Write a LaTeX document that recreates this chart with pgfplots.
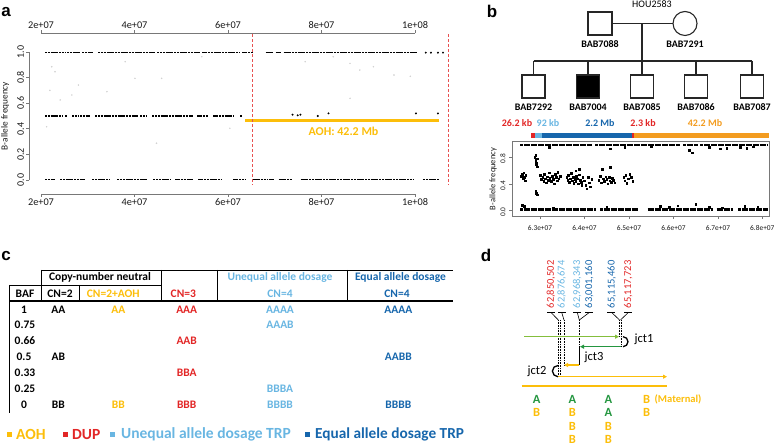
\documentclass[border=0pt]{standalone}
\usepackage{pgfplots}
\pgfplotsset{compat=1.18}
\usepackage{fontspec}
\setmainfont{Carlito}
\newfontfamily\arialfont{Liberation Sans}
\usetikzlibrary{arrows.meta}
\definecolor{cRed}{RGB}{226,38,38}
\definecolor{cLBlue}{RGB}{105,182,226}
\definecolor{cBlue}{RGB}{22,102,172}
\definecolor{cYel}{RGB}{252,190,10}
\definecolor{cOrg}{RGB}{243,156,32}
\definecolor{cLGreen}{RGB}{132,190,60}
\definecolor{cDGreen}{RGB}{36,150,64}
\definecolor{axgray}{RGB}{120,120,120}
\newcommand{\fs}[1]{\fontsize{#1}{#1}\selectfont}
\begin{document}
\begin{tikzpicture}
\useasboundingbox (0,0) rectangle (778pt,446pt);

% ---------------- panel a ----------------
\begin{axis}[at={(41pt,266pt)}, anchor=south west, scale only axis,
  width=374pt, height=128pt, xmin=20, xmax=100, ymin=0, ymax=1,
  hide axis, clip=false, unbounded coords=jump]
% faint points
\addplot[only marks, mark=*, mark size=0.55pt, gray!35] coordinates {
(22.29,0.885)(23.0,0.846)(21.2,0.416)(21.9,0.70)(24.1,0.625)(28.0,0.742)(26.6,0.664)
(34.1,0.69)(40.1,0.794)(45.8,0.794)(44.7,0.287)(38.0,0.924)(54.4,0.963)(60.4,0.404)
(86.1,0.911)(88.2,0.859)(86.1,0.638)(91.1,0.885)(82.5,0.963)(76.5,0.924)(95.5,0.82)(99.0,0.81)};
% bands
\addplot[black, line width=1.2pt, dash pattern=on 2.2pt off 0.6pt] coordinates {
(20.86,0.995)(25.15,0.995)(25.3,nan)(25.57,0.995)(28.36,0.995)(28.5,nan)(28.79,0.995)(31.15,0.995)(31.5,nan)
(32.22,0.995)(44.44,0.995)(44.6,nan)(44.87,0.995)(54.09,0.995)(54.3,nan)(54.52,0.995)(62.67,0.995)(62.8,nan)
(63.1,0.995)(65.24,0.995)(66,nan)(68.03,0.995)(69.53,0.995)(69.8,nan)(70.17,0.995)(71.24,0.995)(71.5,nan)(71.88,0.995)(100.6,0.995)};
\addplot[black, line width=1.2pt, dash pattern=on 2.2pt off 0.6pt] coordinates {
(20.86,0.5)(24.5,0.5)(24.8,nan)(25.15,0.5)(25.57,0.5)(26,nan)(26.65,0.5)(27.93,0.5)(28.1,nan)(28.36,0.5)(30.5,0.5)(31,nan)
(31.58,0.5)(40.58,0.5)(40.9,nan)(41.23,0.5)(42.73,0.5)(43.2,nan)(43.8,0.5)(52.59,0.5)(53,nan)(53.45,0.5)(55.8,0.5)(56.3,nan)
(56.88,0.5)(61.17,0.5)(62,nan)(62.67,0.5)(63.1,0.5)};
\addplot[black, line width=1.2pt, dash pattern=on 2.2pt off 0.6pt] coordinates {
(20.86,0.005)(23.0,0.005)(23.5,nan)(24.07,0.005)(29.43,0.005)(30,nan)(30.93,0.005)(34.79,0.005)(35.5,nan)(36.29,0.005)(42.73,0.005)(43.3,nan)
(44.01,0.005)(47.66,0.005)(48.2,nan)(48.73,0.005)(52.59,0.005)(53.1,nan)(53.66,0.005)(58.81,0.005)(60,nan)(61.17,0.005)(63.74,0.005)(64.5,nan)
(65.24,0.005)(68.45,0.005)(68.55,nan)(68.67,0.005)(69.74,0.005)(70.2,nan)(70.81,0.005)(73.8,0.005)(74.5,nan)(75.53,0.005)(99.76,0.005)(100.5,nan)(101.7,0.005)(105.1,0.005)};
\addplot[only marks, mark=*, mark size=0.75pt, black] coordinates {
(102.3,0.995)(103.4,0.995)(104.9,0.995)(106.0,0.995)
(73.8,0.51)(74.9,0.505)(75.5,0.51)(79.2,0.5)(81.5,0.52)(100.2,0.52)(104.9,0.52)};
% AOH line
\addplot[cYel, line width=2.6pt] coordinates {(63.74,0.466)(105.1,0.466)};
% red dashed lines
\addplot[cRed!80, densely dashed, line width=0.6pt] coordinates {(65.13,1.14)(65.13,-0.04)};
\addplot[cRed!80, densely dashed, line width=0.6pt] coordinates {(107.06,1.14)(107.06,-0.04)};
% R-style axes
\draw[axgray, line width=0.6pt] (20,-0.112) -- (100,-0.112);
\draw[axgray, line width=0.6pt] (20,1.146) -- (100,1.146);
\draw[axgray, line width=0.6pt] (17.49,0) -- (17.49,1);
\pgfplotsinvokeforeach{20,40,60,80,100}{
  \draw[axgray, line width=0.6pt] (#1,-0.112) -- ++(0pt,-3pt);
  \draw[axgray, line width=0.6pt] (#1,1.146) -- ++(0pt,3pt);
}
\pgfplotsinvokeforeach{0,0.2,0.4,0.6,0.8,1}{
  \draw[axgray, line width=0.6pt] (17.49,#1) -- ++(-3pt,0pt);
}
\foreach \x/\l in {20/2e+07,40/4e+07,60/6e+07,80/8e+07,100/1e+08}{
  \edef\tmp{\noexpand\node[below, inner sep=1pt, font=\noexpand\fs{10.3}, text=black!90] at (axis cs:\x,-0.135) {\l};
  \noexpand\node[above, inner sep=1pt, font=\noexpand\fs{10.3}, text=black!90] at (axis cs:\x,1.17) {\l};}
  \tmp
}
\foreach \y/\l in {0/0.0,0.2/0.2,0.4/0.4,0.6/0.6,0.8/0.8,1/1.0}{
  \edef\tmp{\noexpand\node[rotate=90, anchor=south, inner sep=1pt, font=\noexpand\fs{10}, text=black!90] at (axis cs:16.6,\y) {\l};}
  \tmp
}
\node[rotate=90, font=\fs{9.3}, text=black!90] at (axis cs:12.35,0.5) {B-allele frequency};
\node[font=\bfseries\fs{12}, text=cYel] at (axis cs:84.7,0.38) {AOH: 42.2 Mb};
\end{axis}

% ---------------- panel b plot ----------------
\begin{axis}[at={(512pt,230pt)}, anchor=south west, scale only axis,
  width=257pt, height=74.5pt, xmin=62.37, xmax=68.15, ymin=-0.083, ymax=1.038,
  clip=false, axis line style={axgray, line width=0.6pt},
  tick align=outside, xtick pos=bottom, ytick pos=left, major tick length=3pt,
  tick style={axgray, line width=0.6pt},
  xtick={63,64,65,66,67,68}, xticklabels={6.3e+07,6.4e+07,6.5e+07,6.6e+07,6.7e+07,6.8e+07},
  ytick={0,0.4,0.8}, yticklabels={0.0,0.4,0.8},
  xticklabel style={font=\fs{7.4}, text=black!90, yshift=-3pt},
  yticklabel style={font=\fs{7.4}, text=black!90, rotate=90, anchor=south, xshift=-1.5pt}]
% colored bar
\addplot[cRed, line width=5.5pt] coordinates {(62.80,1.128)(62.89,1.128)};
\addplot[cLBlue, line width=5.5pt] coordinates {(62.89,1.128)(63.04,1.128)};
\addplot[cBlue, line width=5.5pt] coordinates {(63.04,1.128)(65.07,1.128)};
\addplot[cRed, line width=5.5pt] coordinates {(65.07,1.128)(65.12,1.128)};
\addplot[cOrg, line width=5.5pt] coordinates {(65.12,1.128)(68.16,1.128)};
% bands
\addplot[black, line width=2.2pt, dash pattern=on 3pt off 0.5pt, unbounded coords=jump] coordinates {
(62.55,0.98)(64.18,0.98)(64.21,nan)(64.24,0.98)(66.15,0.98)(66.18,nan)(66.22,0.98)(66.55,0.98)(66.57,nan)(66.6,0.98)(68.12,0.98)};
\addplot[black, line width=2.2pt, dash pattern=on 3pt off 0.5pt, unbounded coords=jump] coordinates {
(62.55,0.015)(64.27,0.015)(64.3,nan)(64.35,0.015)(65.2,0.015)(65.3,nan)(65.42,0.015)(66.9,0.015)(66.93,nan)(66.97,0.015)(67.34,0.015)(67.4,nan)(67.46,0.015)(68.13,0.015)};
\addplot[only marks, mark=square*, mark size=0.8pt, black] coordinates {
(63.2,0.95)(64.58,0.93)(66.35,0.91)(66.42,0.87)(66.8,0.95)(67.05,0.93)(67.2,0.94)(67.5,0.95)(67.65,0.94)(67.8,0.96)(65.5,0.96)(64.9,0.95)
(62.6,0.08)(62.65,0.06)(64.5,0.05)(65.7,0.06)(65.9,0.05)(66.1,0.07)(66.5,0.09)(66.8,0.05)(67.1,0.04)(67.6,0.06)(63.3,0.04)(67.9,0.05)
(62.58,0.52)(62.60,0.55)(62.62,0.48)(62.64,0.50)(62.66,0.45)(62.68,0.53)(62.63,0.57)
(62.88,0.80)(62.90,0.76)(62.91,0.72)(62.92,0.69)(62.93,0.78)(62.94,0.66)(62.90,0.83)
(62.90,0.29)(62.92,0.26)(62.94,0.24)
(63.00,0.53)(63.03,0.47)(63.06,0.50)(63.08,0.44)(63.10,0.55)(63.12,0.48)(63.14,0.42)(63.16,0.51)(63.18,0.46)(63.20,0.57)
(63.22,0.49)(63.25,0.44)(63.27,0.52)(63.30,0.47)(63.32,0.40)(63.34,0.55)(63.36,0.50)(63.38,0.45)(63.40,0.58)(63.42,0.48)(63.45,0.52)
(63.60,0.50)(63.62,0.46)(63.64,0.53)(63.66,0.43)(63.68,0.48)(63.70,0.56)(63.72,0.45)(63.74,0.50)(63.76,0.41)(63.78,0.47)
(63.80,0.44)(63.82,0.52)(63.84,0.48)(63.86,0.40)(63.88,0.54)(63.90,0.46)(63.92,0.43)(63.94,0.38)(63.96,0.50)(63.80,0.60)(63.88,0.62)
(64.00,0.45)(64.03,0.38)(64.05,0.33)(64.08,0.50)(64.10,0.42)(64.13,0.36)(64.16,0.47)
(64.32,0.46)(64.35,0.52)(64.38,0.42)(64.40,0.62)(64.42,0.48)(64.45,0.44)(64.48,0.51)(64.50,0.47)(64.52,0.40)(64.55,0.50)
(64.57,0.45)(64.60,0.43)(64.62,0.49)(64.58,0.65)(64.65,0.46)(64.68,0.42)
(64.88,0.50)(64.90,0.45)(64.93,0.53)(64.95,0.41)(64.98,0.48)(65.02,0.55)(65.05,0.50)(65.08,0.44)};
\end{axis}

% ---------------- drawings in pixel coordinates ----------------
\begin{scope}[x=1pt, y=-1pt, yshift=446pt]
% panel letters
\node[font=\arialfont\bfseries\fs{17}] at (6,12) {a};
\node[font=\arialfont\bfseries\fs{17}] at (492,11) {b};
\node[font=\arialfont\bfseries\fs{17}] at (6,256) {c};
\node[font=\arialfont\bfseries\fs{17}] at (486,255) {d};

% panel b pedigree
\node[font=\fs{10}] at (652,4) {HOU2583};
\begin{scope}[line width=1.1pt, black!85]
\draw (588,12) rectangle (612,35);
\draw (685,23.5) circle (12pt);
\draw (612,23.5) -- (673,23.5);
\draw (642,23.5) -- (642,61);
\draw (533.5,61) -- (752,61);
\foreach \c in {533.5,588,642,696,752}{\draw (\c,61) -- (\c,75);}
\foreach \c in {533.5,642,696,752}{\draw (\c-11.5,75) rectangle (\c+11.5,98);}
\filldraw[fill=black] (588-11.5,75) rectangle (588+11.5,98);
\end{scope}
\node[font=\bfseries\fs{10}] at (600,44.5) {BAB7088};
\node[font=\bfseries\fs{10}] at (685,44.5) {BAB7291};
\foreach \c/\l in {533.5/BAB7292,588/BAB7004,642/BAB7085,696/BAB7086,752/BAB7087}{
  \node[font=\bfseries\fs{10}] at (\c,107.5) {\l};}
\node[font=\bfseries\fs{10}, text=cRed] at (517,123) {26.2 kb};
\node[font=\bfseries\fs{10}, text=cLBlue] at (548,123) {92 kb};
\node[font=\bfseries\fs{10}, text=cBlue] at (600,123) {2.2 Mb};
\node[font=\bfseries\fs{10}, text=cRed] at (643,123) {2.3 kb};
\node[font=\bfseries\fs{10}, text=cOrg] at (705,123) {42.2 Mb};
\node[rotate=90, font=\fs{8.5}, text=black!90] at (493,179) {B-allele frequency};

% panel c table
\begin{scope}[line width=0.8pt]
\draw (41.7,270) -- (453,270);
\draw (9.3,285) -- (161.7,285);
\draw (41.7,270) -- (41.7,301);
\draw (79.3,285) -- (79.3,301);
\draw (161.7,270) -- (161.7,301);
\draw (217.3,270) -- (217.3,301);
\draw (347.3,270) -- (347.3,301);
\draw (9.3,285) -- (9.3,413);
\draw[line width=1.2pt] (9.3,301) -- (453,301);
\end{scope}
\begin{scope}[every node/.style={font=\bfseries\fs{11.5}}]
\node at (100,277.3) {Copy-number neutral};
\node[text=cLBlue] at (280,277.3) {Unequal allele dosage};
\node[text=cBlue, anchor=west] at (351.5,277.3) {Equal allele dosage};
\node at (25,293.3) {BAF};
\node at (60,293.3) {CN=2};
\node[text=cYel] at (113.3,293.3) {CN=2+AOH};
\node[text=cRed] at (183.3,293.3) {CN=3};
\node[text=cLBlue] at (280,293.3) {CN=4};
\node[text=cBlue] at (397,293.3) {CN=4};
\node at (24,309.3) {1};
\node at (25,325) {0.75};
\node at (25,340.7) {0.66};
\node at (24,356.7) {0.5};
\node at (25,372.3) {0.33};
\node at (25,388.3) {0.25};
\node at (24,404.3) {0};
\node at (58.3,309.3) {AA};
\node at (58.3,356.7) {AB};
\node at (58.3,404.3) {BB};
\node[text=cYel] at (118.3,309.3) {AA};
\node[text=cYel] at (118.3,404.3) {BB};
\node[text=cRed] at (186.7,309.3) {AAA};
\node[text=cRed] at (186.7,340.7) {AAB};
\node[text=cRed] at (186.7,372.3) {BBA};
\node[text=cRed] at (186.7,404.3) {BBB};
\node[text=cLBlue] at (280,309.3) {AAAA};
\node[text=cLBlue] at (280,325) {AAAB};
\node[text=cLBlue] at (280,388.3) {BBBA};
\node[text=cLBlue] at (280,404.3) {BBBB};
\node[text=cBlue] at (398.3,309.3) {AAAA};
\node[text=cBlue] at (398.3,356.7) {AABB};
\node[text=cBlue] at (398.3,404.3) {BBBB};
\end{scope}
% legend
\fill[cYel] (7,432) rectangle (12,437);
\node[anchor=west, inner sep=0pt, font=\bfseries\fs{15.5}, text=cYel] at (16,434.5) {AOH};
\fill[cRed] (63,432) rectangle (68,437);
\node[anchor=west, inner sep=0pt, font=\bfseries\fs{15.5}, text=cRed] at (72,434.5) {DUP};
\fill[cLBlue] (110,432) rectangle (115,437);
\node[anchor=west, inner sep=0pt, font=\bfseries\fs{15.5}, text=cLBlue] at (121,434.5) {Unequal allele dosage TRP};
\fill[cBlue] (305,432) rectangle (310,437);
\node[anchor=west, inner sep=0pt, font=\bfseries\fs{15.3}, text=cBlue] at (315,434.5) {Equal allele dosage TRP};

% panel d
\foreach \x/\l/\c in {551/{62,850,502}/cRed, 561.7/{62,876,674}/cLBlue, 577.3/{62,968,343}/cLBlue, 589.3/{63,001,160}/cBlue, 611.7/{65,115,460}/cBlue, 628.3/{65,117,723}/cRed}{
  \node[rotate=90, anchor=west, inner sep=0pt, font=\fs{10.5}, text=\c] at (\x,308.5) {\l};}
\begin{scope}[line width=0.6pt]
\draw (547,312.5) -- (555,312.5); \draw (551,312.5) -- (558.3,320);
\draw (558,312.5) -- (566,312.5); \draw (561.7,312.5) -- (564,320);
\draw (573,312.5) -- (581,312.5); \draw (577.3,312.5) -- (579.3,320);
\draw (585,312.5) -- (593,312.5); \draw (589.3,312.5) -- (579.3,320);
\draw (607,312.5) -- (615,312.5); \draw (611.7,312.5) -- (619.5,320);
\draw (624,312.5) -- (632,312.5); \draw (628.3,312.5) -- (620.5,320);
\end{scope}
\begin{scope}[densely dotted, line width=0.6pt]
\draw (558.3,320) -- (558.3,376.7);
\draw (560.2,320) -- (560.2,376.7);
\draw (564,320) -- (564,365);
\draw (579.3,320) -- (579.3,346.7);
\draw (619.2,320) -- (619.2,336.7);
\draw (620.8,320) -- (620.8,346.7);
\end{scope}
\draw[cLGreen, line width=1.5pt, -{Triangle[length=4pt,width=4pt]}] (524,336.7) -- (619,336.7);
\draw[cDGreen, line width=1.5pt, -{Triangle[length=4pt,width=4pt]}] (620.8,346.7) -- (580,346.7);
\draw[black, line width=0.9pt] (579.3,346.7) -- (579.3,365);
\draw[cYel, line width=1.5pt, -{Triangle[length=4pt,width=4pt]}] (579.3,365) -- (564,365);
\draw[cYel, line width=1.5pt, -{Triangle[length=4pt,width=4pt]}] (558.3,376.7) -- (667,376.7);
\draw[cYel, line width=1.8pt] (521.7,385.7) -- (667,385.7);
\draw[black, line width=1.3pt] (623,336.7) arc[start angle=90, end angle=-90, radius=5pt];
\draw[black, line width=1.3pt] (558,365.5) arc[start angle=90, end angle=270, radius=5.6pt];
\node[font=\fs{12.5}] at (644,339) {jct1};
\node[font=\fs{12.5}] at (594,357.5) {jct3};
\node[font=\fs{12.5}] at (537,371) {jct2};
\begin{scope}[every node/.style={font=\bfseries\fs{12.5}}]
\node[text=cDGreen] at (536.7,399.5) {A};
\node[text=cYel] at (536.7,412.8) {B};
\node[text=cDGreen] at (572.3,399.5) {A};
\node[text=cYel] at (572.3,412.8) {B};
\node[text=cYel] at (572.3,426) {B};
\node[text=cYel] at (572.3,439) {B};
\node[text=cDGreen] at (608.3,399.5) {A};
\node[text=cDGreen] at (608.3,412.8) {A};
\node[text=cYel] at (608.3,426) {B};
\node[text=cYel] at (608.3,439) {B};
\node[text=cYel] at (646.7,399.5) {B};
\node[text=cYel] at (646.7,412.8) {B};
\end{scope}
\node[font=\bfseries\fs{10.5}, text=cYel, anchor=west, inner sep=0pt] at (654.5,399.2) {(Maternal)};
\end{scope}
\end{tikzpicture}
\end{document}
